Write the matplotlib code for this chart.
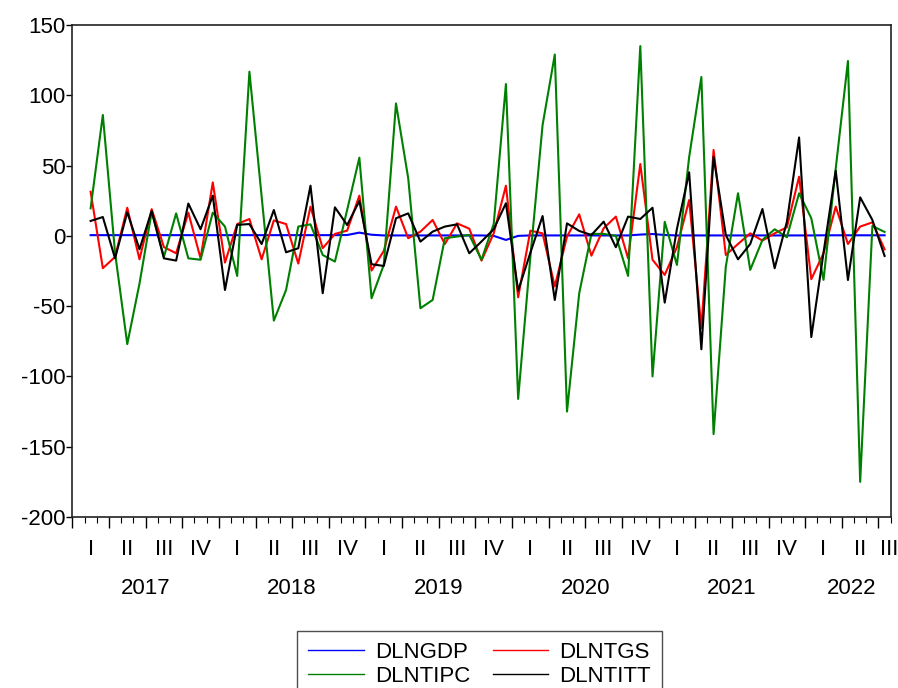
import numpy as np
import matplotlib
matplotlib.use("Agg")
import matplotlib.pyplot as plt
from matplotlib.lines import Line2D
import matplotlib.transforms as mtransforms

plt.rcParams['font.family'] = ['Liberation Sans', 'DejaVu Sans']
plt.rcParams['axes.unicode_minus'] = False

# monthly growth rates, Feb 2017 .. Jul 2022
start_month = 1      # months after Jan 2017
dlngdp = [0.5, 0.5, 0.5, 0.5, 0.5, 0.5, 0.5, 0.5, 0.5, 0.5, 0.5, 0.5,
          0.5, 0.5, 0.5, 0.5, 0.5, 0.5, 0.5, 0.5, 0.5, 0.6, 2.3, 0.8,
          0.3, 0.3, 0.3, 0.3, 0.3, 0.3, 0.3, 0.3, 0.3, 0.0, -2.9, 0.0,
          0.3, 0.3, 0.3, 0.3, 0.3, 0.3, 0.3, 0.3, 0.3, 0.9, 1.3, 0.6,
          0.3, 0.3, 0.3, 0.3, 0.3, 0.3, 0.3, 0.3, 0.3, 0.3, 0.3, 0.3,
          0.4, 0.4, 0.4, 0.4, 0.4, 0.4]
dlntgs = [31.4, -23, -15, 20, -16.7, 19, -8, -12.4, 16.5, -16, 38, -19,
          8.4, 12, -16.7, 11, 8.4, -19.7, 20.8, -8.8, 1.4, 3.7, 28.6, -24.7,
          -10.7, 20.8, -1.7, 3, 11.3, -5.8, 8.9, 5.1, -17.6, 1.8, 35.7, -43.7,
          3.7, 1.8, -36, -0.5, 15.3, -14.1, 5.4, 13.7, -16, 51.1, -17, -27.8,
          -8, 25.5, -65.7, 61.1, -13.6, -5.8, 1.8, -3.4, 1.8, 6.1, 42.1, -30.8,
          -12.4, 20.8, -5.8, 6.6, 9.6, -9.6]
dlntipc = [19.6, 86, -12, -77, -34, 17, -15, 16, -16, -17, 16.5, 6.6,
           -28.5, 116.8, 28, -60.3, -38.5, 6.6, 8.2, -13.6, -18.3, 18.4, 55.6, -44.4,
           -20.6, 94.2, 41, -51.5, -45.6, -1.7, -0.5, 0.6, -17, 8.4, 108, -116,
           -15, 78.8, 129, -125, -40.8, 1.4, 1.4, 0, -28.5, 135, -100, 10,
           -20.7, 56, 113, -141, -22, 30.3, -24.2, -2.9, 4.7, -1, 30.3, 12.5,
           -31.3, 48, 124.4, -175, 7, 2.8]
dlntitt = [10.6, 13.4, -16, 16.8, -9.5, 17.7, -16, -17.6, 23, 4.7, 28.6, -38.5,
           7.8, 8.4, -5.8, 18.4, -11.7, -8.8, 35.7, -40.8, 20.3, 7.7, 24.8, -20.2,
           -21.4, 12.5, 16, -4.1, 3, 6.6, 8.2, -12.4, -4, 4.7, 23.2, -39,
           -12, 14.1, -45.6, 8.9, 3.5, 0.6, 10.1, -8.1, 13.7, 12, 20, -47.5,
           5, 45.2, -80.7, 56.3, 0.6, -16.7, -5.8, 19.1, -23, 10, 70, -72,
           -12, 46.4, -31.4, 27.4, 11.3, -14.3]

years = ['2017', '2018', '2019', '2020', '2021', '2022']
quarters = ['I', 'II', 'III', 'IV']

# points sit in the middle of their month
x = np.arange(len(dlngdp)) + start_month + 0.5
x_end = 67

fig = plt.figure(figsize=(8.98, 6.88), dpi=100)
ax = fig.add_axes([72.3 / 898, 1 - 517 / 688, (890.7 - 72.3) / 898, 492 / 688])

ax.plot(x, dlngdp, color='#0000ff', lw=1.5, label='DLNGDP')
ax.plot(x, dlntgs, color='#ff0000', lw=1.5, label='DLNTGS')
ax.plot(x, dlntipc, color='#008000', lw=1.5, label='DLNTIPC')
ax.plot(x, dlntitt, color='#000000', lw=1.5, label='DLNTITT')

ax.set_xlim(0, x_end)
ax.set_ylim(-200, 150)
ax.set_yticks(np.arange(-200, 151, 50))
ax.tick_params(axis='y', direction='out', length=4, width=1, labelsize=16, pad=1)

ax.set_xticks(np.arange(0, x_end + 1, 3))
ax.set_xticks(np.arange(0, x_end + 1, 1), minor=True)
ax.tick_params(axis='x', which='major', direction='out', length=8, width=1, labelbottom=False)
ax.tick_params(axis='x', which='minor', direction='out', length=4, width=0.8)

for s in ax.spines.values():
    s.set_linewidth(1.2)
    s.set_color('#222222')

trans = mtransforms.blended_transform_factory(ax.transData, ax.transAxes)
for q in range(int(np.ceil(x_end / 3))):
    xc = q * 3 + 1.5
    if xc > x_end:
        xc = x_end - 0.15
    ax.text(xc, -0.066, quarters[q % 4], transform=trans, ha='center', va='center',
            fontsize=16, clip_on=False)
for k, yr in enumerate(years):
    xc = k * 12 + 6 if k < len(years) - 1 else 63.8
    ax.text(xc, -0.145, yr, transform=trans, ha='center', va='center',
            fontsize=16, clip_on=False)

handles = [Line2D([], [], color='#0000ff', lw=1.0),
           Line2D([], [], color='#008000', lw=1.0),
           Line2D([], [], color='#ff0000', lw=1.0),
           Line2D([], [], color='#000000', lw=1.0)]
labels = ['DLNGDP', 'DLNTIPC', 'DLNTGS', 'DLNTITT']
leg = fig.legend(handles, labels, ncol=2, loc='upper left',
                 bbox_to_anchor=(297.3 / 898, 1 - 630.7 / 688),
                 bbox_transform=fig.transFigure, borderaxespad=0,
                 fontsize=16, frameon=True, fancybox=False,
                 handlelength=2.5, handletextpad=0.5, columnspacing=1.0,
                 labelspacing=0.15, borderpad=0.5)
leg.get_frame().set_edgecolor('#222222')
leg.get_frame().set_linewidth(1.0)

fig.savefig('out.png', dpi=100)
